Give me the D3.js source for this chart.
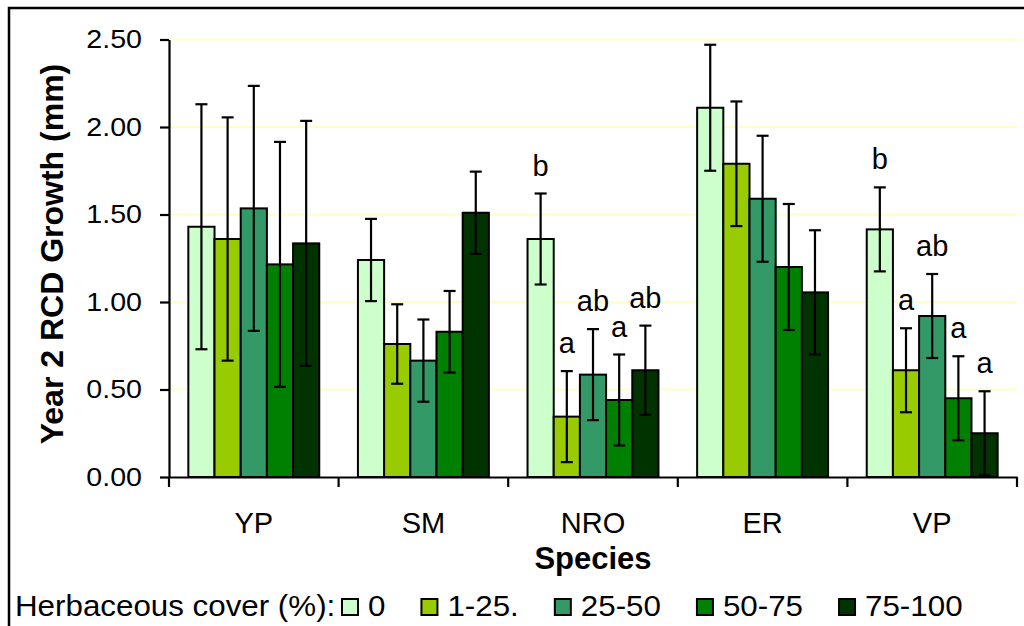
<!DOCTYPE html>
<html>
<head>
<meta charset="utf-8">
<script src="https://cdn.jsdelivr.net/npm/d3@7"></script>
<style>
  body { margin: 0; background: #fff; }
  text { font-family: Arial, "Liberation Sans", sans-serif; }
</style>
</head>
<body>
<div id="chart"></div>
<script>
// data
var species = ["YP", "SM", "NRO", "ER", "VP"]
var covers = ["0", "1-25.", "25-50", "50-75", "75-100"]
var colors = ["#ccffcc", "#99cc00", "#339966", "#008000", "#003300"]

// mean growth, one array per cover class (order = species)
var cover0 = [1.43, 1.24, 1.36, 2.11, 1.415]
var cover1 = [1.36, 0.76, 0.345, 1.79, 0.61]
var cover25 = [1.535, 0.665, 0.585, 1.59, 0.92]
var cover50 = [1.215, 0.83, 0.44, 1.20, 0.45]
var cover75 = [1.335, 1.51, 0.61, 1.055, 0.25]

// error bar half-widths
var err0 = [0.70, 0.235, 0.26, 0.36, 0.24]
var err1 = [0.695, 0.227, 0.26, 0.356, 0.24]
var err25 = [0.70, 0.235, 0.26, 0.36, 0.24]
var err50 = [0.70, 0.233, 0.26, 0.36, 0.24]
var err75 = [0.70, 0.235, 0.255, 0.355, 0.24]

// significance letters
var letters0 = ["", "", "b", "", "b"]
var letters1 = ["", "", "a", "", "a"]
var letters25 = ["", "", "ab", "", "ab"]
var letters50 = ["", "", "a", "", "a"]
var letters75 = ["", "", "ab", "", "a"]

var yTicks = [0, 0.5, 1.0, 1.5, 2.0, 2.5]

var means = [cover0, cover1, cover25, cover50, cover75]
var errs = [err0, err1, err25, err50, err75]
var letters = [letters0, letters1, letters25, letters50, letters75]

var data = []
species.forEach((sp, i) => {
    covers.forEach((c, j) => {
        data.push({species: sp, cover: c, ci: j, value: means[j][i], err: errs[j][i], letter: letters[j][i]})
    })
})

// the original's text is a bit wider than Arial, stretch it horizontally
function stretch(sel, k) {
    sel.each(function() {
        var w = this.getComputedTextLength()
        d3.select(this).attr("textLength", w * k).attr("lengthAdjust", "spacingAndGlyphs")
    })
}

var svgSize = {width: 1024, height: 626}

var svg = d3.select("#chart")
    .append("svg")
    .attr("width", svgSize.width)
    .attr("height", svgSize.height)

// outer frame (only top and left edges show)
svg.append("rect")
    .attr("x", 9).attr("y", 8)
    .attr("width", 1200).attr("height", 800)
    .attr("fill", "none")
    .attr("stroke", "black")
    .attr("stroke-width", 2.5)

var plot = {left: 169, right: 1017, top: 39.5, bottom: 477}

var xScale = d3.scaleBand()
    .domain(species)
    .range([plot.left, plot.right])
    .paddingInner(0.228)
    .paddingOuter(0.114)

var xGroups = d3.scaleBand()
    .domain(species)
    .range([plot.left, plot.right])

var xInner = d3.scaleBand()
    .domain(covers)
    .range([0, xScale.bandwidth()])

var yScale = d3.scaleLinear()
    .domain([0, 2.5])
    .range([plot.bottom, plot.top])

// gridlines
svg.append("g")
    .selectAll("line")
    .data(yTicks.filter(d => d > 0))
    .enter()
    .append("line")
    .attr("x1", plot.left).attr("x2", plot.right)
    .attr("y1", d => yScale(d)).attr("y2", d => yScale(d))
    .attr("stroke", "#ffffc4")
    .attr("stroke-width", 2)

var bars = svg.append("g")

bars.selectAll("rect")
    .data(data)
    .enter()
    .append("rect")
    .attr("x", d => xScale(d.species) + xInner(d.cover))
    .attr("y", d => yScale(d.value))
    .attr("width", xInner.bandwidth())
    .attr("height", d => yScale(0) - yScale(d.value))
    .attr("fill", d => colors[d.ci])
    .attr("stroke", "black")
    .attr("stroke-width", 2)

// error bars
var eb = svg.append("g").attr("stroke", "black").attr("stroke-width", 2.2)
var cx = d => xScale(d.species) + xInner(d.cover) + xInner.bandwidth() / 2
var capW = 6

eb.selectAll(".stem").data(data).enter().append("line")
    .attr("x1", cx).attr("x2", cx)
    .attr("y1", d => yScale(d.value + d.err))
    .attr("y2", d => yScale(Math.max(0, d.value - d.err)))
eb.selectAll(".capTop").data(data).enter().append("line")
    .attr("x1", d => cx(d) - capW).attr("x2", d => cx(d) + capW)
    .attr("y1", d => yScale(d.value + d.err))
    .attr("y2", d => yScale(d.value + d.err))
eb.selectAll(".capBot").data(data).enter().append("line")
    .attr("x1", d => cx(d) - capW).attr("x2", d => cx(d) + capW)
    .attr("y1", d => yScale(Math.max(0, d.value - d.err)))
    .attr("y2", d => yScale(Math.max(0, d.value - d.err)))

// letters
svg.append("g")
    .selectAll("text")
    .data(data.filter(d => d.letter))
    .enter()
    .append("text")
    .attr("x", cx)
    .attr("y", d => yScale(d.value + d.err) - 18)
    .attr("text-anchor", "middle")
    .attr("font-size", 29)
    .text(d => d.letter)

// y axis
var leftAxis = d3.axisLeft(yScale)
    .tickValues(yTicks)
    .tickFormat(d3.format(".2f"))
    .tickSize(9)
    .tickSizeOuter(0)
    .tickPadding(18)

var yAxis = svg.append("g")
    .attr("transform", `translate(${plot.left}, 0)`)
    .call(leftAxis)
yAxis.select(".domain").attr("stroke-width", 2.2)
yAxis.selectAll(".tick line").attr("stroke-width", 2.2)
yAxis.selectAll("text")
    .attr("font-size", 26)
    .attr("font-family", "Arial, 'Liberation Sans', sans-serif")
    .attr("fill", "black")
stretch(yAxis.selectAll("text"), 1.1)

// x axis: ticks at group boundaries
var bottomAxis = d3.axisBottom(xGroups).tickSize(0).tickSizeOuter(0).tickPadding(35)
var xAxis = svg.append("g")
    .attr("transform", `translate(0, ${plot.bottom})`)
    .call(bottomAxis)
xAxis.select(".domain").attr("stroke-width", 2.2)
xAxis.selectAll("text")
    .attr("font-size", 29)
    .attr("font-family", "Arial, 'Liberation Sans', sans-serif")
    .attr("fill", "black")
    .attr("dy", "0.71em")

var bounds = species.map(s => xGroups(s)).concat([plot.right])
xAxis.selectAll(".bound")
    .data(bounds)
    .enter()
    .append("line")
    .attr("x1", d => d).attr("x2", d => d)
    .attr("y1", 0).attr("y2", 10)
    .attr("stroke", "black")
    .attr("stroke-width", 2.2)

// axis titles
svg.append("text")
    .attr("x", 593)
    .attr("y", 569)
    .attr("text-anchor", "middle")
    .attr("font-size", 31)
    .attr("font-weight", "bold")
    .text("Species")

svg.append("text")
    .attr("transform", `translate(63, 254) rotate(-90)`)
    .attr("text-anchor", "middle")
    .attr("font-size", 32)
    .attr("font-weight", "bold")
    .text("Year 2 RCD Growth (mm)")

// legend
var legend = svg.append("g").attr("transform", "translate(0, 616)")
var legendTitle = legend.append("text")
    .attr("x", 15)
    .attr("y", 0)
    .attr("font-size", 29)
    .text("Herbaceous cover (%):")
stretch(legendTitle, 1.08)

var lx = 342
covers.forEach((c, i) => {
    legend.append("rect")
        .attr("x", lx).attr("y", -17)
        .attr("width", 16).attr("height", 16)
        .attr("fill", colors[i])
        .attr("stroke", "black")
        .attr("stroke-width", 2)
    var t = legend.append("text")
        .attr("x", lx + 26)
        .attr("y", 0)
        .attr("font-size", 29)
        .text(c)
    var w = t.node().getComputedTextLength() * 1.08
    stretch(t, 1.08)
    lx = lx + 26 + w + 36
})
</script>
</body>
</html>
